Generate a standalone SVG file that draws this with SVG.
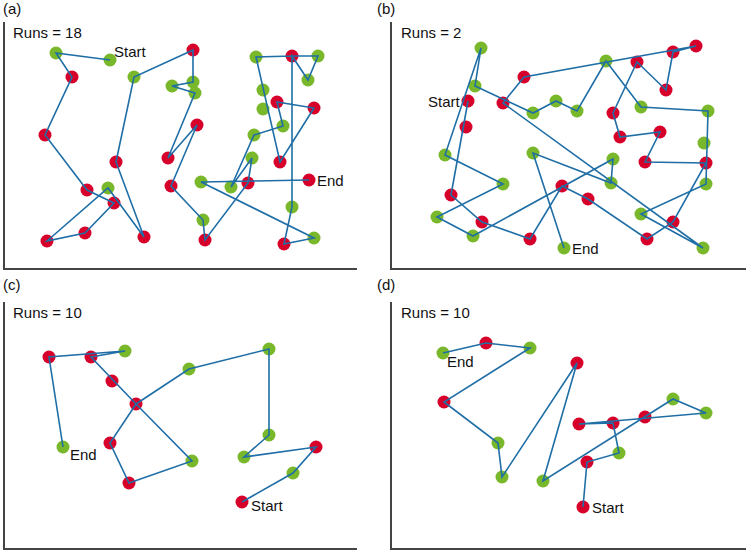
<svg xmlns="http://www.w3.org/2000/svg" width="750" height="554" viewBox="0 0 750 554">
<style>
.r{fill:#d7002b}
.g{fill:#78b82a}
.e{fill:none;stroke:#1f6ea6;stroke-width:1.6;stroke-linejoin:miter}
.ax{fill:none;stroke:#444;stroke-width:2}
text{font-family:"Liberation Sans",Arial,sans-serif;font-size:15px;fill:#111}
</style>
<rect width="750" height="554" fill="#fff"/>
<g id="axes">
<polyline class="ax" points="4,22 4,269 357,269"/>
<polyline class="ax" points="391,22 391,269 746,269"/>
<polyline class="ax" points="4,302 4,549 357,549"/>
<polyline class="ax" points="391,302 391,549 746,549"/>
</g>
<g id="labels">
<text x="3" y="14">(a)</text>
<text x="377" y="14">(b)</text>
<text x="3" y="290">(c)</text>
<text x="377" y="290">(d)</text>
<text x="13" y="38">Runs = 18</text>
<text x="401" y="38">Runs = 2</text>
<text x="13" y="318">Runs = 10</text>
<text x="401" y="318">Runs = 10</text>
</g>
<g id="panel-a">
<g id="a1"><circle class="g" cx="110" cy="60" r="6.5"/><text x="114" y="57">Start</text></g>
<g id="a2"><circle class="g" cx="56" cy="53" r="6.5"/></g>
<g id="a3"><circle class="r" cx="72" cy="77" r="6.5"/></g>
<g id="a4"><circle class="r" cx="45" cy="135" r="6.5"/></g>
<g id="a5"><circle class="r" cx="87" cy="190" r="6.5"/></g>
<g id="a6"><circle class="r" cx="114" cy="203" r="6.5"/></g>
<g id="a7"><circle class="r" cx="85" cy="233" r="6.5"/></g>
<g id="a8"><circle class="r" cx="47" cy="241" r="6.5"/></g>
<g id="a9"><circle class="g" cx="108" cy="188" r="6.5"/></g>
<g id="a10"><circle class="r" cx="144" cy="237" r="6.5"/></g>
<g id="a11"><circle class="r" cx="116" cy="162" r="6.5"/></g>
<g id="a12"><circle class="g" cx="134" cy="77" r="6.5"/></g>
<g id="a13"><circle class="r" cx="193" cy="50" r="6.5"/></g>
<g id="a14"><circle class="g" cx="193" cy="82" r="6.5"/></g>
<g id="a15"><circle class="g" cx="172" cy="86" r="6.5"/></g>
<g id="a16"><circle class="g" cx="195" cy="93" r="6.5"/></g>
<g id="a17"><circle class="r" cx="168" cy="158" r="6.5"/></g>
<g id="a18"><circle class="r" cx="197" cy="125" r="6.5"/></g>
<g id="a19"><circle class="r" cx="171" cy="186" r="6.5"/></g>
<g id="a20"><circle class="g" cx="203" cy="220" r="6.5"/></g>
<g id="a21"><circle class="r" cx="205" cy="240" r="6.5"/></g>
<g id="a22"><circle class="r" cx="248" cy="183" r="6.5"/></g>
<g id="a23"><circle class="g" cx="252" cy="158" r="6.5"/></g>
<g id="a24"><circle class="g" cx="231" cy="187" r="6.5"/></g>
<g id="a25"><circle class="g" cx="254" cy="135" r="6.5"/></g>
<g id="a26"><circle class="g" cx="283" cy="126" r="6.5"/></g>
<g id="a27"><circle class="r" cx="277" cy="102" r="6.5"/></g>
<g id="a28"><circle class="r" cx="314" cy="108" r="6.5"/></g>
<g id="a29"><circle class="r" cx="280" cy="162" r="6.5"/></g>
<g id="a30"><circle class="g" cx="263" cy="90" r="6.5"/></g>
<g id="a31"><circle class="g" cx="263" cy="109" r="6.5"/></g>
<g id="a32"><circle class="g" cx="256" cy="57" r="6.5"/></g>
<g id="a33"><circle class="r" cx="292" cy="56" r="6.5"/></g>
<g id="a34"><circle class="g" cx="318" cy="56" r="6.5"/></g>
<g id="a35"><circle class="g" cx="308" cy="80" r="6.5"/></g>
<g id="a36"><circle class="g" cx="292" cy="207" r="6.5"/></g>
<g id="a37"><circle class="r" cx="284" cy="244" r="6.5"/></g>
<g id="a38"><circle class="g" cx="314" cy="238" r="6.5"/></g>
<g id="a39"><circle class="g" cx="201" cy="182" r="6.5"/></g>
<g id="a40"><circle class="r" cx="309" cy="180" r="6.5"/><text x="317" y="186">End</text></g>
</g>
<g id="panel-b">
<g id="b1"><circle class="r" cx="468" cy="101" r="6.5"/><text x="428" y="107">Start</text></g>
<g id="b2"><circle class="r" cx="466" cy="127" r="6.5"/></g>
<g id="b3"><circle class="r" cx="451" cy="195" r="6.5"/></g>
<g id="b4"><circle class="r" cx="482" cy="222" r="6.5"/></g>
<g id="b5"><circle class="r" cx="530" cy="239" r="6.5"/></g>
<g id="b6"><circle class="r" cx="562" cy="186" r="6.5"/></g>
<g id="b7"><circle class="r" cx="588" cy="199" r="6.5"/></g>
<g id="b8"><circle class="r" cx="647" cy="239" r="6.5"/></g>
<g id="b9"><circle class="r" cx="673" cy="222" r="6.5"/></g>
<g id="b10"><circle class="r" cx="706" cy="163" r="6.5"/></g>
<g id="b11"><circle class="r" cx="645" cy="162" r="6.5"/></g>
<g id="b12"><circle class="r" cx="660" cy="132" r="6.5"/></g>
<g id="b13"><circle class="r" cx="620" cy="137" r="6.5"/></g>
<g id="b14"><circle class="r" cx="613" cy="113" r="6.5"/></g>
<g id="b15"><circle class="r" cx="637" cy="62" r="6.5"/></g>
<g id="b16"><circle class="r" cx="666" cy="90" r="6.5"/></g>
<g id="b17"><circle class="r" cx="673" cy="52" r="6.5"/></g>
<g id="b18"><circle class="r" cx="696" cy="46" r="6.5"/></g>
<g id="b19"><circle class="r" cx="524" cy="77" r="6.5"/></g>
<g id="b20"><circle class="r" cx="503" cy="103" r="6.5"/></g>
<g id="b21"><circle class="g" cx="703" cy="248" r="6.5"/></g>
<g id="b22"><circle class="g" cx="641" cy="214" r="6.5"/></g>
<g id="b23"><circle class="g" cx="706" cy="184" r="6.5"/></g>
<g id="b24"><circle class="g" cx="704" cy="143" r="6.5"/></g>
<g id="b25"><circle class="g" cx="708" cy="111" r="6.5"/></g>
<g id="b26"><circle class="g" cx="641" cy="107" r="6.5"/></g>
<g id="b27"><circle class="g" cx="606" cy="61" r="6.5"/></g>
<g id="b28"><circle class="g" cx="577" cy="111" r="6.5"/></g>
<g id="b29"><circle class="g" cx="556" cy="101" r="6.5"/></g>
<g id="b30"><circle class="g" cx="533" cy="113" r="6.5"/></g>
<g id="b31"><circle class="g" cx="475" cy="86" r="6.5"/></g>
<g id="b32"><circle class="g" cx="481" cy="48" r="6.5"/></g>
<g id="b33"><circle class="g" cx="445" cy="155" r="6.5"/></g>
<g id="b34"><circle class="g" cx="503" cy="184" r="6.5"/></g>
<g id="b35"><circle class="g" cx="437" cy="217" r="6.5"/></g>
<g id="b36"><circle class="g" cx="473" cy="236" r="6.5"/></g>
<g id="b37"><circle class="g" cx="613" cy="159" r="6.5"/></g>
<g id="b38"><circle class="g" cx="611" cy="183" r="6.5"/></g>
<g id="b39"><circle class="g" cx="533" cy="153" r="6.5"/></g>
<g id="b40"><circle class="g" cx="564" cy="248" r="6.5"/><text x="572" y="254">End</text></g>
</g>
<g id="panel-c">
<g id="c1"><circle class="r" cx="242" cy="502" r="6.5"/><text x="251" y="511">Start</text></g>
<g id="c2"><circle class="g" cx="293" cy="473" r="6.5"/></g>
<g id="c3"><circle class="r" cx="316" cy="447" r="6.5"/></g>
<g id="c4"><circle class="g" cx="244" cy="457" r="6.5"/></g>
<g id="c5"><circle class="g" cx="269" cy="435" r="6.5"/></g>
<g id="c6"><circle class="g" cx="269" cy="349" r="6.5"/></g>
<g id="c7"><circle class="g" cx="189" cy="369" r="6.5"/></g>
<g id="c8"><circle class="r" cx="136" cy="404" r="6.5"/></g>
<g id="c9"><circle class="g" cx="192" cy="461" r="6.5"/></g>
<g id="c10"><circle class="r" cx="129" cy="483" r="6.5"/></g>
<g id="c11"><circle class="r" cx="110" cy="443" r="6.5"/></g>
<g id="c12"><circle class="r" cx="112" cy="381" r="6.5"/></g>
<g id="c13"><circle class="r" cx="91" cy="357" r="6.5"/></g>
<g id="c14"><circle class="g" cx="125" cy="351" r="6.5"/></g>
<g id="c15"><circle class="r" cx="49" cy="357" r="6.5"/></g>
<g id="c16"><circle class="g" cx="63" cy="447" r="6.5"/><text x="70" y="460">End</text></g>
</g>
<g id="panel-d">
<g id="d1"><circle class="r" cx="583" cy="507" r="6.5"/><text x="592" y="513">Start</text></g>
<g id="d2"><circle class="r" cx="587" cy="462" r="6.5"/></g>
<g id="d3"><circle class="g" cx="619" cy="453" r="6.5"/></g>
<g id="d4"><circle class="r" cx="613" cy="423" r="6.5"/></g>
<g id="d5"><circle class="r" cx="579" cy="424" r="6.5"/></g>
<g id="d6"><circle class="r" cx="645" cy="417" r="6.5"/></g>
<g id="d7"><circle class="g" cx="706" cy="413" r="6.5"/></g>
<g id="d8"><circle class="g" cx="673" cy="399" r="6.5"/></g>
<g id="d9"><circle class="g" cx="543" cy="481" r="6.5"/></g>
<g id="d10"><circle class="r" cx="577" cy="363" r="6.5"/></g>
<g id="d11"><circle class="g" cx="502" cy="477" r="6.5"/></g>
<g id="d12"><circle class="g" cx="498" cy="443" r="6.5"/></g>
<g id="d13"><circle class="r" cx="444" cy="402" r="6.5"/></g>
<g id="d14"><circle class="g" cx="530" cy="348" r="6.5"/></g>
<g id="d15"><circle class="r" cx="486" cy="343" r="6.5"/></g>
<g id="d16"><circle class="g" cx="443" cy="353" r="6.5"/><text x="447" y="367">End</text></g>
</g>
<g id="connectors">
<polyline class="e" points="110,60 56,53 72,77 45,135 87,190 114,203 85,233 47,241 108,188 144,237 116,162 134,77 193,50 193,82 172,86 195,93 168,158 197,125 171,186 203,220 205,240 248,183 252,158 231,187 254,135 283,126 277,102 314,108 280,162 256,57 292,56 318,56 308,80 292,56 292,207 284,244 314,238 201,182 309,180"/>
<polyline class="e" points="468,101 451,195 482,222 530,239 562,186 588,199 647,239 673,222 706,163 645,162 660,132 620,137 613,113 637,62 666,90 673,52 696,46 524,77 503,103 703,248 641,214 706,184 708,111 641,107 606,61 577,111 556,101 533,113 475,86 481,48 445,155 503,184 437,217 473,236 613,159 611,183 533,153 564,248"/>
<polyline class="e" points="242,502 293,473 316,447 244,457 269,435 269,349 189,369 136,404 192,461 129,483 110,443 136,404 91,357 125,351 49,357 63,447"/>
<polyline class="e" points="583,507 587,462 619,453 613,423 579,424 706,413 673,399 543,481 577,363 502,477 498,443 444,402 530,348 486,343 443,353"/>
</g>
</svg>
